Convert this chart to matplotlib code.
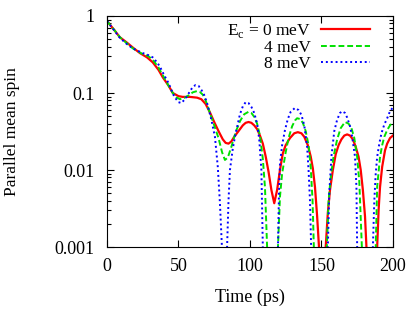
import numpy as np
import matplotlib
matplotlib.use('Agg')
import matplotlib.pyplot as plt
from matplotlib.ticker import LogLocator, NullFormatter, FixedLocator

plt.rcParams['font.family'] = ['Liberation Serif', 'DejaVu Serif']
plt.rcParams['mathtext.fontset'] = 'custom'
plt.rcParams['mathtext.rm'] = 'Liberation Serif'

# values (time in ps, parallel mean spin)
t_0 = [0, 5, 9, 14, 18, 23, 28, 32, 36, 39, 43, 46, 50, 53, 58, 63, 66, 69, 72, 75,
       78, 81, 83, 85, 87, 89, 92, 95, 97, 99, 101, 103, 105, 107, 109, 111, 113,
       115, 117, 119, 121, 123, 125, 128, 131, 133.5, 136, 138, 140.5, 142.5, 144,
       145.5, 147, 148.3, 150.5, 153, 154.5, 156, 158, 160, 162, 164, 166, 168, 170,
       172, 174, 176, 177.5, 179, 180.5, 181.5, 185, 189, 190, 191, 192.5, 194.5,
       196, 198, 200]
s_0 = [0.86, 0.66, 0.53, 0.45, 0.39, 0.33, 0.29, 0.25, 0.20, 0.16, 0.125, 0.10,
       0.091, 0.089, 0.089, 0.087, 0.083, 0.072, 0.056, 0.042, 0.032, 0.025, 0.0225,
       0.022, 0.0235, 0.027, 0.032, 0.038, 0.041, 0.042, 0.041, 0.038, 0.034, 0.028,
       0.022, 0.015, 0.0095, 0.0055, 0.0037, 0.0055, 0.010, 0.0165, 0.021, 0.026,
       0.030, 0.031, 0.030, 0.027, 0.021, 0.015, 0.0105, 0.006, 0.0025, 0.001, 1e-4,
       0.001, 0.0028, 0.0055, 0.010, 0.016, 0.021, 0.025, 0.028, 0.029, 0.028, 0.025,
       0.020, 0.0148, 0.010, 0.0055, 0.0025, 0.001, 1e-4, 0.001, 0.003, 0.006, 0.011,
       0.018, 0.022, 0.026, 0.028]

t_4 = [0, 5, 9, 14, 18, 25, 29, 32, 36, 39, 43, 46, 48.5, 51, 54, 57, 60, 63, 65,
       67, 69, 72, 75, 78, 80.5, 82.5, 84.5, 87, 90, 93, 96, 99, 101, 103, 105, 107,
       109, 110.5, 112, 116, 119.6, 121, 122.5, 125, 127, 129.5, 131.5, 133, 135,
       137, 139, 141, 142.5, 143.8, 144.7, 149, 153.8, 155, 156.5, 158.5, 161, 163.5,
       166.5, 169, 171, 173, 175, 176.5, 178.3, 183, 188, 189, 191, 192.5, 194, 196,
       198, 200]
s_4 = [0.86, 0.66, 0.53, 0.44, 0.38, 0.32, 0.30, 0.27, 0.215, 0.17, 0.125, 0.10,
       0.088, 0.083, 0.086, 0.093, 0.102, 0.106, 0.103, 0.095, 0.080, 0.055, 0.038,
       0.026, 0.017, 0.0135, 0.0145, 0.020, 0.031, 0.043, 0.053, 0.057, 0.055, 0.049,
       0.040, 0.028, 0.014, 0.006, 0.001, 1e-4, 0.001, 0.0045, 0.009, 0.017, 0.026,
       0.037, 0.044, 0.047, 0.046, 0.041, 0.032, 0.021, 0.011, 0.004, 0.001, 1e-4,
       0.001, 0.004, 0.008, 0.015, 0.025, 0.035, 0.042, 0.040, 0.035, 0.026, 0.0148,
       0.007, 0.001, 1e-4, 0.001, 0.006, 0.0148, 0.021, 0.027, 0.033, 0.038, 0.042]

t_8 = [0, 5, 9, 14, 18, 22, 25, 29, 32, 35, 37, 40, 43, 45, 47, 50, 52, 55, 58, 60,
       62, 64, 66, 68, 70, 73, 75.5, 77.5, 79, 80.4, 82, 84, 85, 86, 88, 89.5, 93,
       95, 97, 99, 101, 103, 105, 106.5, 108, 109, 114, 119.6, 120.3, 121, 122.5,
       124.5, 126.5, 128.5, 131.5, 134, 136, 138, 140, 141, 142, 142.8, 148, 154.5,
       155.5, 157, 159, 161, 163, 164.5, 166.5, 168, 170, 171.5, 173.5, 174.5, 175,
       180.5, 186, 187, 188, 189, 190.5, 192, 194, 196, 198, 200]
s_8 = [0.86, 0.65, 0.52, 0.43, 0.38, 0.35, 0.33, 0.31, 0.29, 0.25, 0.22, 0.17, 0.135,
       0.11, 0.09, 0.076, 0.074, 0.085, 0.105, 0.12, 0.127, 0.124, 0.11, 0.094,
       0.074, 0.045, 0.027, 0.011, 0.0037, 0.001, 1e-4, 0.001, 0.004, 0.010, 0.019,
       0.027, 0.053, 0.067, 0.076, 0.074, 0.066, 0.055, 0.040, 0.025, 0.010, 0.001,
       1e-4, 0.001, 0.005, 0.012, 0.021, 0.033, 0.046, 0.057, 0.064, 0.060, 0.052,
       0.038, 0.020, 0.010, 0.004, 0.001, 1e-4, 0.001, 0.005, 0.015, 0.032, 0.045,
       0.055, 0.058, 0.055, 0.048, 0.037, 0.027, 0.0148, 0.006, 0.001, 1e-4, 0.001,
       0.004, 0.009, 0.0148, 0.022, 0.030, 0.039, 0.047, 0.058, 0.065]

labels = ['E$_\\mathregular{c}$ = 0 meV', '4 meV', '8 meV']

fig = plt.figure(figsize=(4.14, 3.10), dpi=100)
ax = fig.add_axes([0.2585, 0.2032, 0.6905, 0.7452])

ax.plot(t_0, s_0, color='#ff0000', lw=1.6, label=labels[0])
ax.plot(t_4, s_4, color='#00e000', lw=1.4, dashes=(3, 1.5), label=labels[1])
ax.plot(t_8, s_8, color='#0000ff', lw=1.4, dashes=(1, 1.5), label=labels[2])

ax.set_yscale('log')
ax.set_xlim(0, 200)
ax.set_ylim(0.001, 1)
ax.xaxis.set_major_locator(FixedLocator([0, 50, 100, 150, 200]))
ax.set_yticks([0.001, 0.01, 0.1, 1])
ax.set_yticklabels(['0.001', '0.01', '0.1', '1'])
ax.yaxis.set_minor_locator(LogLocator(base=10, subs=np.arange(2, 10)))
ax.yaxis.set_minor_formatter(NullFormatter())

ax.tick_params(which='both', direction='in', top=True, right=True, labelsize=13)
ax.tick_params(which='major', length=5, width=0.8)
ax.tick_params(which='minor', length=3, width=0.8)
ax.tick_params(axis='y', pad=9)
ax.tick_params(axis='x', pad=8)

ax.set_xlabel('Time (ps)', fontsize=13, labelpad=10)
ax.set_ylabel('Parallel mean spin', fontsize=12.5, labelpad=25)

leg = ax.legend(loc='upper right', bbox_to_anchor=(0.92, 0.975), markerfirst=False,
                frameon=False, fontsize=12.5, handlelength=2.8, handletextpad=0.63,
                labelspacing=0.0, borderpad=0, borderaxespad=0)

fig.savefig('out.png', dpi=100)
